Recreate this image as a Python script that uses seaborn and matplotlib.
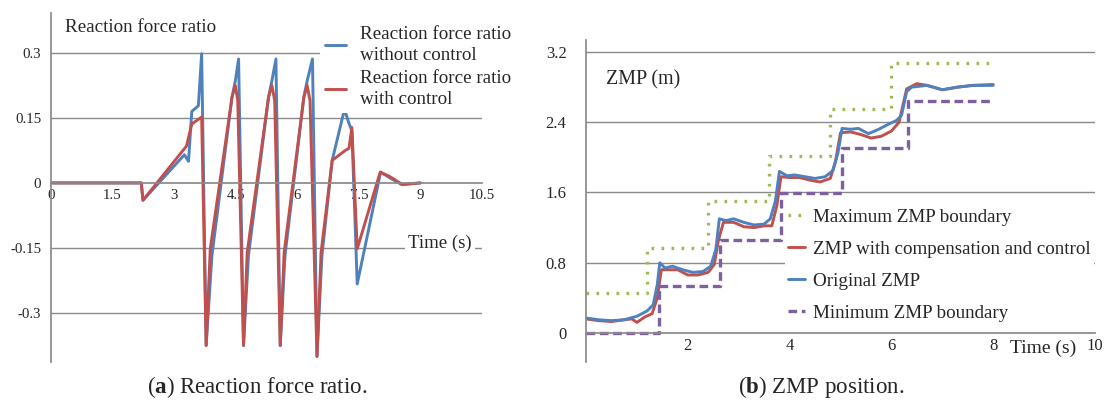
import numpy as np
import pandas as pd
import matplotlib
matplotlib.use("Agg")
import matplotlib.pyplot as plt
import seaborn as sns

# (a) reaction force ratio
t_force_blue = [0, 2.2, 2.24, 3.25, 3.35, 3.43, 3.59, 3.67, 3.78, 3.92, 4.41, 4.49, 4.57,
                4.69, 4.81, 5.30, 5.38, 5.48, 5.585, 5.70, 6.16, 6.24, 6.37, 6.48, 6.60,
                6.85, 7.15, 7.25, 7.33, 7.46, 8.03, 8.25, 8.55, 9.0]
force_blue = [0, 0, -0.04, 0.065, 0.05, 0.165, 0.178, 0.298, -0.375, -0.168, 0.198, 0.235, 0.286,
              -0.375, -0.168, 0.198, 0.235, 0.286, -0.375, -0.168, 0.198, 0.235, 0.286, -0.40, -0.168,
              0.052, 0.17, 0.14, 0.12, -0.233, 0.025, 0.012, -0.004, 0.0]
t_force_red = [0, 2.2, 2.24, 3.30, 3.43, 3.67, 3.78, 3.88, 4.41, 4.49, 4.55, 4.69, 4.78,
               5.30, 5.38, 5.45, 5.585, 5.68, 6.16, 6.24, 6.31, 6.48, 6.58, 6.85, 7.17,
               7.26, 7.33, 7.46, 8.02, 8.25, 8.55, 9.0]
force_red = [0, 0, -0.04, 0.085, 0.136, 0.152, -0.375, -0.152, 0.198, 0.225, 0.19, -0.375, -0.16,
             0.198, 0.225, 0.19, -0.375, -0.16, 0.198, 0.225, 0.19, -0.40, -0.16, 0.052, 0.075,
             0.08, 0.128, -0.152, 0.025, 0.015, -0.003, 0.0]

# (b) ZMP position
t_zmp_blue = [0.0, 0.25, 0.5, 0.75, 1.0, 1.2, 1.32, 1.40, 1.45, 1.55, 1.7, 1.9, 2.1, 2.3, 2.45,
              2.55, 2.62, 2.75, 2.9, 3.1, 3.3, 3.5, 3.62, 3.72, 3.80, 3.95, 4.1, 4.3, 4.5, 4.7,
              4.85, 4.95, 5.03, 5.2, 5.35, 5.55, 5.75, 5.95, 6.1, 6.2, 6.3, 6.4, 6.7, 7.0, 7.3,
              7.6, 8.0]
zmp_blue = [0.17, 0.15, 0.14, 0.15, 0.19, 0.25, 0.32, 0.55, 0.80, 0.74, 0.76, 0.72, 0.69, 0.70, 0.76,
            0.95, 1.30, 1.28, 1.30, 1.26, 1.23, 1.24, 1.30, 1.50, 1.84, 1.79, 1.80, 1.78, 1.76, 1.78,
            1.85, 2.05, 2.33, 2.32, 2.33, 2.27, 2.32, 2.38, 2.42, 2.48, 2.75, 2.80, 2.82, 2.77, 2.80,
            2.82, 2.82]
t_zmp_red = [0.0, 0.25, 0.5, 0.75, 0.9, 1.0, 1.15, 1.3, 1.40, 1.48, 1.6, 1.8, 2.0, 2.2, 2.4,
             2.52, 2.6, 2.7, 2.9, 3.1, 3.3, 3.5, 3.65, 3.75, 3.83, 4.0, 4.2, 4.4, 4.6, 4.8,
             4.9, 5.0, 5.2, 5.4, 5.6, 5.8, 6.0, 6.15, 6.3, 6.5, 6.7, 7.0, 7.3, 7.6, 8.0]
zmp_red = [0.16, 0.14, 0.13, 0.15, 0.16, 0.12, 0.18, 0.22, 0.40, 0.72, 0.72, 0.72, 0.66, 0.66, 0.69,
           0.78, 1.05, 1.26, 1.26, 1.21, 1.20, 1.22, 1.22, 1.45, 1.78, 1.77, 1.77, 1.74, 1.72, 1.76,
           1.95, 2.28, 2.29, 2.26, 2.22, 2.24, 2.30, 2.40, 2.78, 2.84, 2.82, 2.77, 2.80, 2.82, 2.83]
t_max_bound = [0, 1.2, 1.2, 2.4, 2.4, 3.6, 3.6, 4.8, 4.8, 6.0, 6.0, 8.0]
max_bound = [0.45, 0.45, 0.97, 0.97, 1.50, 1.50, 2.02, 2.02, 2.55, 2.55, 3.08, 3.08]
t_min_bound = [0, 1.43, 1.43, 2.63, 2.63, 3.83, 3.83, 5.03, 5.03, 6.33, 6.33, 8.0]
min_bound = [0.0, 0.0, 0.53, 0.53, 1.06, 1.06, 1.59, 1.59, 2.11, 2.11, 2.64, 2.64]

BLUE, RED, GREEN, PURPLE = "#4F81BD", "#C0504D", "#9BBB59", "#7D60A0"
GRID = "#8a8a8a"

sns.set_theme(style="white")
plt.rcParams["font.family"] = ["Liberation Serif", "DejaVu Serif"]
plt.rcParams["mathtext.fontset"] = "custom"
plt.rcParams["mathtext.rm"] = "Liberation Serif"
plt.rcParams["mathtext.bf"] = "Liberation Serif:bold"

fig = plt.figure(figsize=(11.1, 4.05), dpi=100)
ax1 = fig.add_axes([51 / 1110, 1 - 362 / 405, 431 / 1110, 349 / 405])
ax2 = fig.add_axes([586 / 1110, 1 - 362 / 405, 509 / 1110, 322 / 405])


def style_axis(ax, xticks, yticks, fs):
    for s in ["top", "right"]:
        ax.spines[s].set_visible(False)
    ax.spines["left"].set_color(GRID)
    ax.spines["bottom"].set_color(GRID)
    ax.spines["bottom"].set_position(("data", 0))
    ax.set_xticks(xticks)
    ax.set_yticks(yticks)
    ax.tick_params(axis="x", direction="in", length=5, color=GRID, labelsize=fs, pad=4)
    ax.tick_params(axis="y", length=0, labelsize=fs)
    for y in yticks:
        if y != 0:
            ax.axhline(y, color=GRID, lw=1, zorder=0)
    ax.set_xlabel("")
    ax.set_ylabel("")


# ---- (a)
df_fb = pd.DataFrame({"t": t_force_blue, "v": force_blue})
df_fr = pd.DataFrame({"t": t_force_red, "v": force_red})
sns.lineplot(data=df_fb, x="t", y="v", ax=ax1, color=BLUE, lw=2.1, sort=False,
             estimator=None, label="Reaction force ratio\nwithout control")
sns.lineplot(data=df_fr, x="t", y="v", ax=ax1, color=RED, lw=2.1, sort=False,
             estimator=None, label="Reaction force ratio\nwith control")
ax1.set_xlim(0, 10.5)
ax1.set_ylim(-0.413, 0.392)
style_axis(ax1, [0, 1.5, 3, 4.5, 6, 7.5, 9, 10.5], [-0.3, -0.15, 0, 0.15, 0.3], 10.7)
ax1.set_xticklabels(["0", "1.5", "3", "4.5", "6", "7.5", "9", "10.5"])
ax1.set_yticklabels(["-0.3", "-0.15", "0", "0.15", "0.3"])
ax1.tick_params(axis="y", pad=7)
leg1 = ax1.legend(loc="upper left", bbox_to_anchor=(310 / 1110, 1 - 11 / 405),
                  bbox_transform=fig.transFigure, fontsize=13.7, frameon=True,
                  facecolor="white", edgecolor="none", framealpha=1, handlelength=1.1,
                  handletextpad=0.75, labelspacing=0.3, borderpad=0.3, fancybox=False)
for txt in leg1.get_texts():
    txt.set_linespacing(1.3)
fig.text(65 / 1110, 1 - 27 / 405, "Reaction force ratio", fontsize=13.7, va="center", ha="left")
fig.text(440 / 1110, 1 - 243 / 405, "Time (s)", fontsize=13.5, va="center", ha="center",
         bbox=dict(facecolor="white", edgecolor="none", pad=2))

# ---- (b)
df_mx = pd.DataFrame({"t": t_max_bound, "v": max_bound})
df_zr = pd.DataFrame({"t": t_zmp_red, "v": zmp_red})
df_zb = pd.DataFrame({"t": t_zmp_blue, "v": zmp_blue})
df_mn = pd.DataFrame({"t": t_min_bound, "v": min_bound})
sns.lineplot(data=df_mx, x="t", y="v", ax=ax2, color=GREEN, lw=2.4, sort=False, estimator=None,
             linestyle=(0, (0.8, 2.2)), label="Maximum ZMP boundary")
sns.lineplot(data=df_zr, x="t", y="v", ax=ax2, color=RED, lw=2.1, sort=False, estimator=None,
             label="ZMP with compensation and control")
sns.lineplot(data=df_zb, x="t", y="v", ax=ax2, color=BLUE, lw=2.1, sort=False, estimator=None,
             label="Original ZMP")
sns.lineplot(data=df_mn, x="t", y="v", ax=ax2, color=PURPLE, lw=2.4, sort=False, estimator=None,
             linestyle=(0, (2.6, 1.4)), label="Minimum ZMP boundary")
ax2.set_xlim(0, 10)
ax2.set_ylim(-0.331, 3.337)
style_axis(ax2, [2, 4, 6, 8, 10], [0, 0.8, 1.6, 2.4, 3.2], 12)
ax2.set_xticklabels(["2", "4", "6", "8", "10"])
ax2.set_yticklabels(["0", "0.8", "1.6", "2.4", "3.2"])
ax2.tick_params(axis="y", pad=14)
leg2 = ax2.legend(loc="upper left", bbox_to_anchor=(775 / 1110, 1 - 195 / 405),
                  bbox_transform=fig.transFigure, fontsize=13.7, frameon=True,
                  facecolor="white", edgecolor="none", framealpha=1, handlelength=0.9,
                  handletextpad=0.4, labelspacing=0.78, borderpad=0.2, fancybox=False)
fig.text(606 / 1110, 1 - 80 / 405, "ZMP (m)", fontsize=14.4, va="center", ha="left")
fig.text(1043 / 1110, 1 - 348 / 405, "Time (s)", fontsize=14, va="center", ha="center",
         bbox=dict(facecolor="white", edgecolor="none", pad=1))

# ---- captions
fig.text(257 / 1110, 1 - 387 / 405, r"($\mathbf{a}$) Reaction force ratio.", fontsize=16.5,
         ha="center", va="center")
fig.text(821 / 1110, 1 - 387 / 405, r"($\mathbf{b}$) ZMP position.", fontsize=16.5,
         ha="center", va="center")

fig.savefig("out.png", dpi=100)
